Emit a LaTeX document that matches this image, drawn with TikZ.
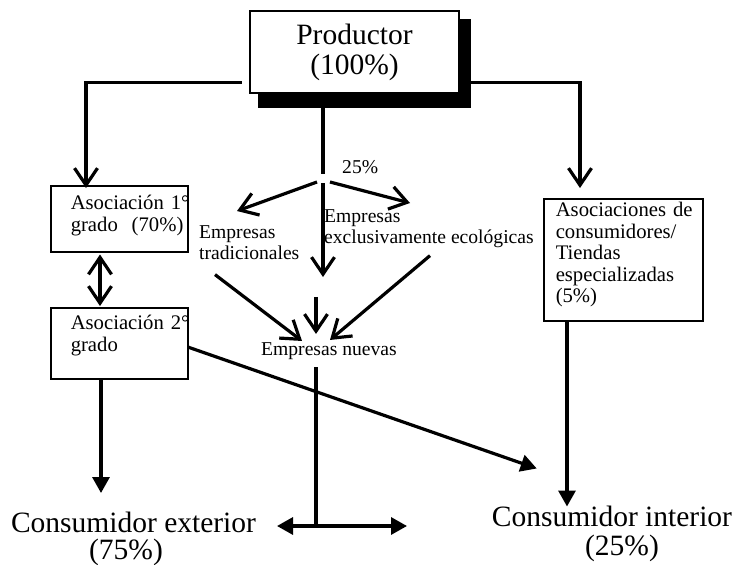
\documentclass[tikz,border=0pt]{standalone}
\usepackage{fontspec}
\setmainfont{Liberation Serif}
\usetikzlibrary{arrows.meta,calc,backgrounds}
\newcommand\bxl[2]{\hspace*{#1}\makebox[0pt][l]{#2}}
\begin{document}
\begin{tikzpicture}[x=1pt,y=-1pt,
  conn/.style={line width=3.2pt},
  barb/.style={-{Straight Barb[length=17pt,width=23pt]}},
  dbarb/.style={{Straight Barb[length=17pt,width=23pt]}-{Straight Barb[length=17pt,width=23pt]}},
  tri/.style={-{Triangle[length=16pt,width=17pt]}},
  dtri/.style={{Triangle[length=16pt,width=17pt]}-{Triangle[length=16pt,width=17pt]}},
  boxn/.style={draw,line width=1.5pt,fill=white,inner sep=0pt,anchor=north west,align=left,font=\fontsize{20.7}{22}\selectfont},
  big/.style={inner sep=0pt,align=center,font=\fontsize{29.5}{30}\selectfont},
  lbl/.style={inner sep=0pt,align=left,font=\fontsize{19.6}{21}\selectfont}]
\useasboundingbox (0,0) rectangle (734,565);
\begin{scope}[on background layer]
  \fill[white] (0,0) rectangle (734,565);
\end{scope}

% nodes
\node[big,draw,line width=2.6pt,fill=white,minimum width=209pt,minimum height=82pt] (prod) at (354.5,52) {Productor\\(100\%)};
\begin{scope}[on background layer]
  \fill ($(prod.north west)+(9,9)$) rectangle ($(prod.south east)+(11,14)$);
\end{scope}

\node[boxn,text width=137pt] (a1) at (50,185)
  {\bxl{20pt}{\rule{0pt}{24pt}Asociación 1°}\\\bxl{20pt}{grado\ \ (70\%)\rule[-20pt]{0pt}{0pt}}};
\node[boxn,text width=137pt] (a2) at (50,307)
  {\bxl{20pt}{\rule{0pt}{22pt}Asociación 2°}\\\bxl{20pt}{grado\rule[-27pt]{0pt}{0pt}}};
\node[boxn,text width=159pt,font=\fontsize{20.7}{21.5}\selectfont] (t) at (543,198)
  {\bxl{12pt}{\rule{0pt}{18pt}Asociaciones de}\\\bxl{12pt}{consumidores/}\\\bxl{12pt}{Tiendas}\\\bxl{12pt}{especializadas}\\\bxl{12pt}{(5\%)\rule[-18pt]{0pt}{0pt}}};

\node[lbl,anchor=base west] (p25) at (342,173) {25\%};
\node[lbl,anchor=north west] (et) at (199,222) {\rule{0pt}{16pt}Empresas\\tradicionales};
\node[lbl,anchor=north west] (ee) at (324,206) {\rule{0pt}{16pt}Empresas\\exclusivamente ecológicas};
\node[lbl,anchor=base west] (en) at (261,355) {Empresas nuevas};

\node[big,anchor=north,font=\fontsize{29.5}{27}\selectfont] (ce) at (133.5,510) {\rule{0pt}{22pt}Consumidor exterior\\(75\%)\hspace*{15pt}};
\node[big,anchor=north,font=\fontsize{29.5}{28.5}\selectfont] (ci) at (612,504.5) {\rule{0pt}{22pt}Consumidor interior\\\hspace*{20pt}(25\%)};

\coordinate (fan) at (323,180);
\coordinate (hub) at (316,526);
\coordinate (dl) at (277,526);
\coordinate (dr) at (407,526);

% connectors from Productor
\draw[conn,barb] ($(prod.south west)+(-7,-12)$) -| ($(a1.north west)+(36,3)$);
\draw[conn,barb] ($(prod.south east)+(11,-12)$) -| ($(t.north west)+(37,-10)$);
\draw[conn] ($(prod.south)+(-31.5,14)$) -- ($(fan)+(0,-6)$);

% fan
\draw[conn,barb] ($(fan)+(-6,2)$) -- ($(et.north west)+(38,-11)$);
\draw[conn,barb] ($(fan)+(7,2)$) -- ($(ee.north west)+(86,-3)$);
\draw[conn,barb] ($(fan)+(0,3)$) -- ($(fan)+(0,97)$);

% converging
\draw[conn,barb] ($(et.south west)+(16,15)$) -- ($(en.north west)+(41,-1)$);
\draw[conn,barb] ($(en.north west)+(55,-45)$) -- ($(en.north west)+(55,-8)$);
\draw[conn,barb] ($(ee.south west)+(106,8)$) -- ($(en.north west)+(69,-2)$);

% associations
\coordinate (dx) at (100,0);
\draw[conn,dbarb] ($(a1.south -| dx)+(0,2)$) -- ($(a2.north -| dx)+(0,-1)$);
\coordinate (a2b) at ($(a2.south west)+(51,0)$);
\draw[conn,tri] (a2b) -- ($(a2b |- ce.north)+(0,-17)$);
\draw[conn,tri] ($(a2.east)+(0,4)$) -- ($(ci.north west)+(45,-36)$);

% tiendas to interior
\coordinate (tb) at ($(t.south west)+(24,0)$);
\draw[conn,tri] (tb) -- ($(tb |- ci.north)+(0,2)$);

% empresas nuevas
\draw[conn] ($(en.south west)+(55,8)$) -- (hub);
\draw[conn,dtri] (dl) -- (dr);
\end{tikzpicture}
\end{document}
